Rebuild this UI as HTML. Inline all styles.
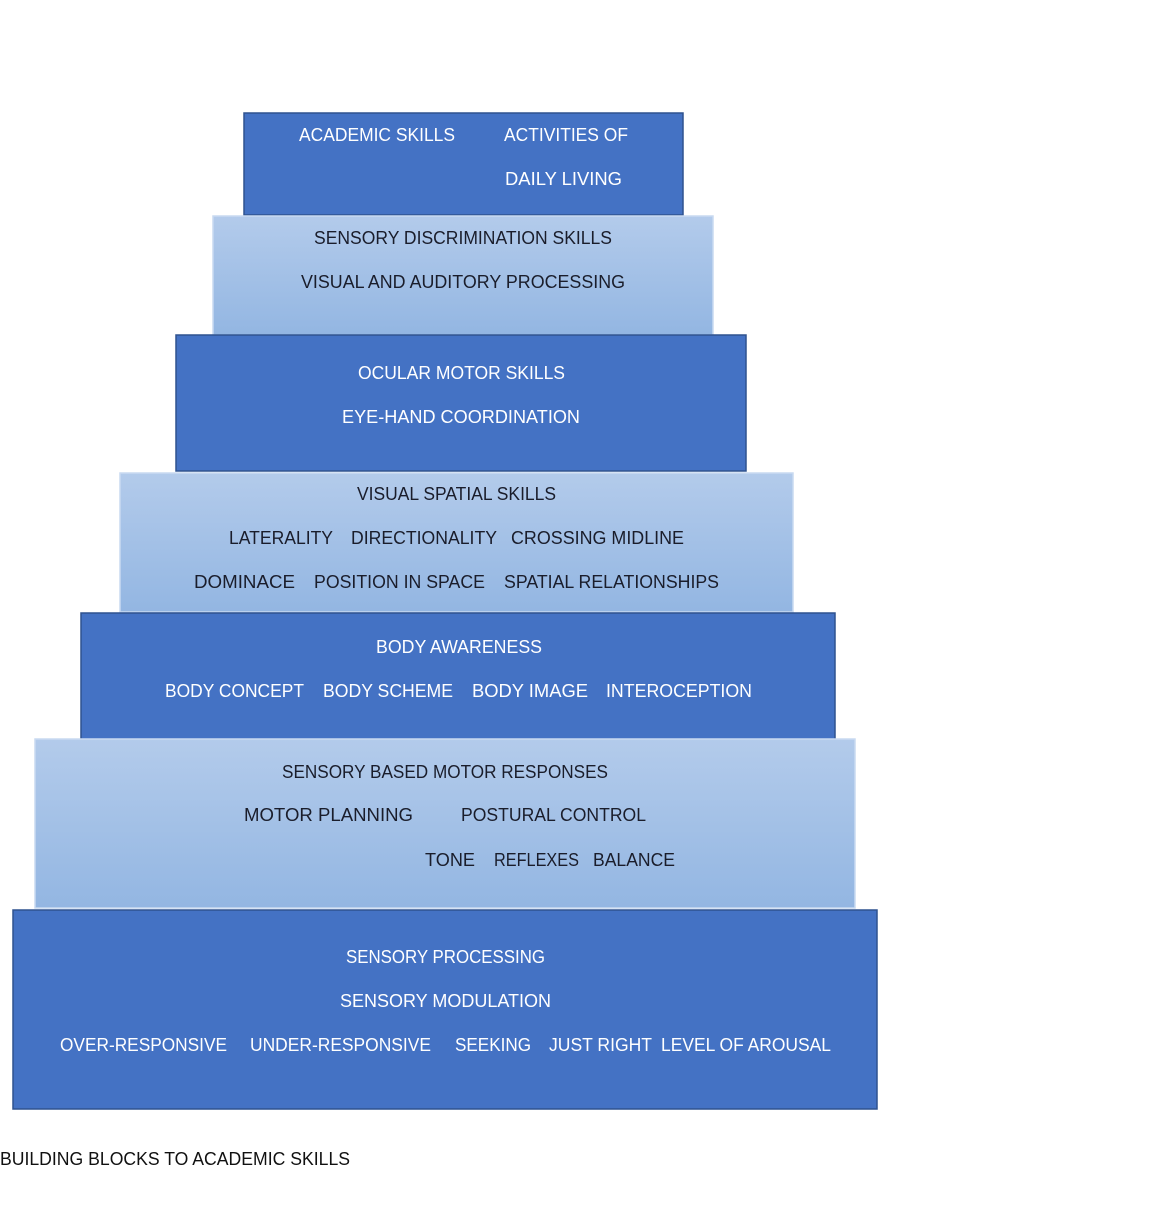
<!DOCTYPE html>
<html><head><meta charset="utf-8"><style>html,body{margin:0;padding:0;background:#fff}svg{display:block}</style></head>
<body>
<svg width="1152" height="1222" viewBox="0 0 1152 1222" xmlns="http://www.w3.org/2000/svg">
<defs>
<linearGradient id="lg" x1="0" y1="0" x2="0" y2="1"><stop offset="0" stop-color="#b3cbeb"/><stop offset="1" stop-color="#93b6e2"/></linearGradient>
</defs>
<g stroke-width="1.5">
<rect x="244" y="113" width="439" height="102" fill="#4472c4" stroke="#2f528f"/>
<rect x="213" y="216" width="500" height="119" fill="url(#lg)" stroke="#c9daf1"/>
<rect x="176" y="335" width="570" height="136" fill="#4472c4" stroke="#2f528f"/>
<rect x="120" y="473" width="673" height="139" fill="url(#lg)" stroke="#c9daf1"/>
<rect x="81" y="613" width="754" height="128" fill="#4472c4" stroke="#2f528f"/>
<rect x="35" y="739" width="820" height="169" fill="url(#lg)" stroke="#c9daf1"/>
<rect x="13" y="910" width="864" height="199" fill="#4472c4" stroke="#2f528f"/>
</g>
<g font-family="Liberation Sans, sans-serif" font-size="18" lengthAdjust="spacingAndGlyphs">
<g fill="#ffffff">
<text x="299" y="141" textLength="156" lengthAdjust="spacingAndGlyphs">ACADEMIC SKILLS</text>
<text x="504" y="141" textLength="124" lengthAdjust="spacingAndGlyphs">ACTIVITIES OF</text>
<text x="505" y="185" textLength="117" lengthAdjust="spacingAndGlyphs">DAILY LIVING</text>
<text x="358" y="379" textLength="207" lengthAdjust="spacingAndGlyphs">OCULAR MOTOR SKILLS</text>
<text x="342" y="423" textLength="238" lengthAdjust="spacingAndGlyphs">EYE-HAND COORDINATION</text>
<text x="376" y="653" textLength="166" lengthAdjust="spacingAndGlyphs">BODY AWARENESS</text>
<text x="165" y="697" textLength="139" lengthAdjust="spacingAndGlyphs">BODY CONCEPT</text>
<text x="323" y="697" textLength="130" lengthAdjust="spacingAndGlyphs">BODY SCHEME</text>
<text x="472" y="697" textLength="116" lengthAdjust="spacingAndGlyphs">BODY IMAGE</text>
<text x="606" y="697" textLength="146" lengthAdjust="spacingAndGlyphs">INTEROCEPTION</text>
<text x="346" y="963" textLength="199" lengthAdjust="spacingAndGlyphs">SENSORY PROCESSING</text>
<text x="340" y="1007" textLength="211" lengthAdjust="spacingAndGlyphs">SENSORY MODULATION</text>
<text x="60" y="1051" textLength="167" lengthAdjust="spacingAndGlyphs">OVER-RESPONSIVE</text>
<text x="250" y="1051" textLength="181" lengthAdjust="spacingAndGlyphs">UNDER-RESPONSIVE</text>
<text x="455" y="1051" textLength="76" lengthAdjust="spacingAndGlyphs">SEEKING</text>
<text x="549" y="1051" textLength="103" lengthAdjust="spacingAndGlyphs">JUST RIGHT</text>
<text x="661" y="1051" textLength="170" lengthAdjust="spacingAndGlyphs">LEVEL OF AROUSAL</text>
</g>
<g fill="#1a1d2b">
<text x="314" y="244" textLength="298" lengthAdjust="spacingAndGlyphs">SENSORY DISCRIMINATION SKILLS</text>
<text x="301" y="288" textLength="324" lengthAdjust="spacingAndGlyphs">VISUAL AND AUDITORY PROCESSING</text>
<text x="357" y="500" textLength="199" lengthAdjust="spacingAndGlyphs">VISUAL SPATIAL SKILLS</text>
<text x="229" y="544" textLength="104" lengthAdjust="spacingAndGlyphs">LATERALITY</text>
<text x="351" y="544" textLength="146" lengthAdjust="spacingAndGlyphs">DIRECTIONALITY</text>
<text x="511" y="544" textLength="173" lengthAdjust="spacingAndGlyphs">CROSSING MIDLINE</text>
<text x="194" y="588" textLength="101" lengthAdjust="spacingAndGlyphs">DOMINACE</text>
<text x="314" y="588" textLength="171" lengthAdjust="spacingAndGlyphs">POSITION IN SPACE</text>
<text x="504" y="588" textLength="215" lengthAdjust="spacingAndGlyphs">SPATIAL RELATIONSHIPS</text>
<text x="282" y="778" textLength="326" lengthAdjust="spacingAndGlyphs">SENSORY BASED MOTOR RESPONSES</text>
<text x="244" y="821" textLength="169" lengthAdjust="spacingAndGlyphs">MOTOR PLANNING</text>
<text x="461" y="821" textLength="185" lengthAdjust="spacingAndGlyphs">POSTURAL CONTROL</text>
<text x="425" y="866" textLength="50" lengthAdjust="spacingAndGlyphs">TONE</text>
<text x="494" y="866" textLength="85" lengthAdjust="spacingAndGlyphs">REFLEXES</text>
<text x="593" y="866" textLength="82" lengthAdjust="spacingAndGlyphs">BALANCE</text>
</g>
<text x="0" y="1165" fill="#111" textLength="350" lengthAdjust="spacingAndGlyphs">BUILDING BLOCKS TO ACADEMIC SKILLS</text>
</g>
</svg>
</body></html>
